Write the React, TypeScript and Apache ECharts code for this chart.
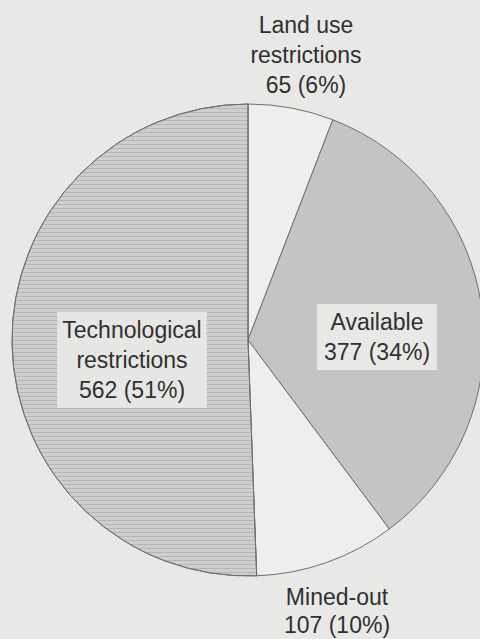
import React, { useEffect, useRef } from "react";
import * as echarts from "echarts";

const categories = ["Land use\nrestrictions", "Available", "Mined-out", "Technological\nrestrictions"];
const values = [65, 377, 107, 562];
const percentLabels = ["6%", "34%", "10%", "51%"];

// label layout (pixel positions of label centres) and styles, kept apart from data
const labelPos = [
  { x: 306, y: 55, bg: "transparent", pad: [0, 0], lh: 30 },
  { x: 377, y: 337, bg: "#e8e8e7", pad: [3, 7], lh: 30 },
  { x: 337, y: 611, bg: "transparent", pad: [0, 0], lh: 28 },
  { x: 132, y: 360, bg: "#e6e6e5", pad: [3, 5], lh: 30 },
];
const sliceColors = ["#eeeeec", "#c3c5c3", "#eeeeec", "#cdcecd"];

export default function App() {
  const ref = useRef<HTMLDivElement>(null);
  useEffect(() => {
    if (!ref.current) return;
    const chart = echarts.init(ref.current, null, { renderer: "svg" });
    const data = categories.map((name, i) => ({
      name,
      value: values[i],
      itemStyle: {
        color: sliceColors[i],
        ...(i === 3
          ? {
              decal: {
                symbol: "rect",
                symbolSize: 1,
                dashArrayX: [[1, 0]],
                dashArrayY: [1, 3],
                color: "rgba(160,162,160,0.55)",
                rotation: 0,
              },
            }
          : {}),
      },
      label: {
        backgroundColor: labelPos[i].bg,
        padding: labelPos[i].pad,
        lineHeight: labelPos[i].lh,
      },
    }));
    chart.setOption({
      animation: false,
      backgroundColor: "#e8e8e6",
      series: [
        {
          type: "pie",
          center: [248, 340],
          radius: 236,
          startAngle: 90,
          clockwise: true,
          avoidLabelOverlap: false,
          itemStyle: { borderColor: "#6f6f6f", borderWidth: 1 },
          label: {
            show: true,
            position: "inside",
            formatter: (p: any) => `${p.name}\n${p.value} (${percentLabels[p.dataIndex]})`,
            fontFamily: "'Liberation Sans', Arial, sans-serif",
            fontSize: 23,
            lineHeight: 30,
            color: "#303030",
            align: "center",
          },
          labelLine: { show: false },
          labelLayout: (params: any) => ({
            x: labelPos[params.dataIndex].x,
            y: labelPos[params.dataIndex].y,
            align: "center",
            verticalAlign: "middle",
          }),
          emphasis: { disabled: true },
          data,
        },
      ],
    });
    return () => chart.dispose();
  }, []);
  return (
    <div
      ref={ref}
      style={{ position: "absolute", left: 0, top: 0, width: 480, height: 639 }}
    />
  );
}
